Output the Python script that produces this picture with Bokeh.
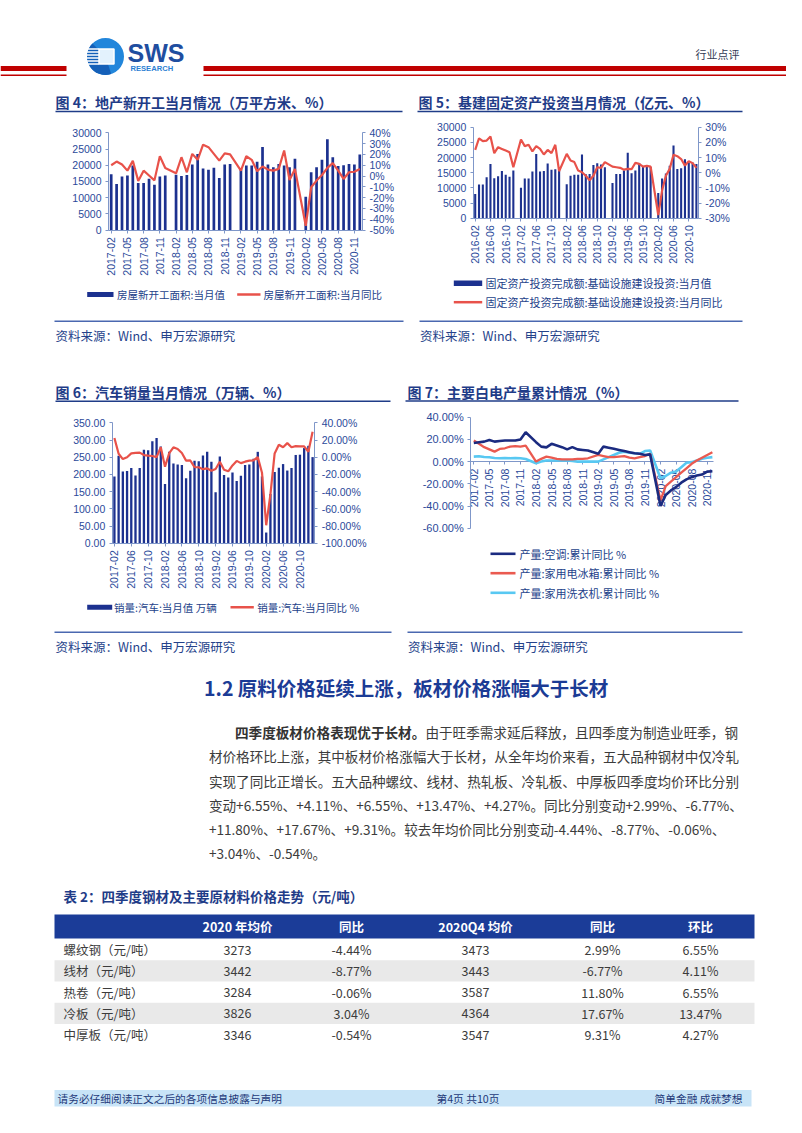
import numpy as np
from bokeh.plotting import figure
from bokeh.models import Range1d, LinearAxis, FixedTicker, PrintfTickFormatter, ColumnDataSource
from bokeh.core.properties import value
from bokeh.embed import file_html
from bokeh.resources import INLINE

# ======================= DATA =======================
def month_labels(y, m, n):
    out = []
    for _ in range(n):
        out.append("%d-%02d" % (y, m))
        m += 1
        if m > 12:
            m, y = 1, y + 1
    return out

# Fig 4: new housing starts (10k m2) and YoY %
c4_months = month_labels(2017, 2, 47)
c4_area = [17200, 14200, 16500, 16800, 19900, 14500, 14500, 15800, 14000, 16500, 16800,
           None, 17100, 16700, 17000, 20200, 23500, 19000, 18600, 19200, 16100, 20200, 20400,
           None, 18800, 19900, 19900, 21100, 25600, 20200, 19400, 20400, 19900, 19400, 22000,
           None, 10300, 17800, 19400, 21700, 28000, 22500, 19800, 20000, 20400, 20200, 23300]
c4_yoy = [10, 13.4, 10.6, 5, 14, -4.5, 5, 0.5, -4, 18.3, 7.5,
          None, 2.5, 17.4, 3.5, 20.5, 15, 29, 26.7, 20.5, 14.3, 21, 20,
          None, 5, 18.3, 15, 4.4, 8.8, 6, 5, 6.6, 23.6, -3.6, 6.6,
          None, -46, -10.4, -4.2, 1, 7.5, 11.9, 5, -2.7, 3.5, 4, 6.6]

# Fig 5: infrastructure FAI (100m yuan) and YoY %
c5_months = month_labels(2016, 2, 59)
c5_inv = [8000, 11100, 11100, 13500, 17900, 13200, 13800, 15600, 14300, 13700, 15700,
          None, 10000, 13100, 13100, 15400, 21200, 15400, 15600, 18000, 16000, 16100, 15700,
          None, 11200, 14000, 14300, 14300, 21000, 14500, 14600, 17500, 18100, 17700, 16800,
          None, 11600, 14600, 14600, 15700, 21600, 14800, 15700, 18100, 17200, 17200, 16900,
          None, 8300, 13100, 14700, 17300, 24000, 16200, 16500, 19400, 18400, 18400, 17900]
c5_yoy = [15, 22.7, 20.8, 21.2, 23.8, 12.9, 16.8, 15.7, 14.6, 13.5, 3.6,
          None, 21.9, 17.5, 18.4, 14, 17.5, 15.7, 12, 15, 12.9, 18.4, 1,
          None, 12.4, 8, 7, 1.4, 0.3, -2, -5, -2, 3.6, 3.2, 7,
          None, 4, 3.6, 3.2, 2, 2.5, 2.3, 6.5, 5.8, 4, 4.5, 4,
          None, -28, -11.8, -2, 2.5, 11.8, 10.9, 9, 4.7, 7.6, 6.3, 3.2]

# Fig 6: auto sales (10k units) and YoY %
c6_months = month_labels(2017, 2, 48)
c6_sales = [193.9, 254.4, 208.4, 209.6, 218.6, 197.1, 218.6, 271.3, 270.4, 296.5, 305.9,
            281.0, 172.4, 265.6, 231.9, 228.8, 227.4, 188.9, 210.3, 239.4, 238.0, 254.8, 266.1,
            236.7, 148.2, 252.0, 198.0, 191.3, 205.6, 180.9, 195.8, 227.1, 229.1, 245.6, 265.6,
            194.1, 31.0, 143.0, 207.0, 219.4, 230.0, 211.2, 218.6, 256.5, 257.3, 276.5, 283.1,
            250.3]
c6_yoy = [22.4, 4.0, -2.2, 0.0, 4.5, 5.0, 5.3, 2.5, 1.9, 1.4, 0.1,
          11.6, -11.1, 4.7, 11.5, 9.6, 4.8, -4.0, -3.8, -11.6, -11.7, -13.9, -13.0,
          -15.8, -13.8, -5.2, -14.6, -16.4, -9.6, -4.3, -6.9, -5.2, -4.0, -3.6, 0.1,
          -18.0, -79.1, -43.3, 4.4, 14.5, 11.6, 16.4, 11.6, 12.8, 12.5, 12.6, 6.4,
          29.5]

# Fig 7: white goods output, cumulative YoY %
c7_months = month_labels(2017, 2, 47)
c7_ac = [16.8, 17.4, 18.0, 19.5, 18.0, 18.6, 19.0, 19.0, 19.0, 20.0, 26.4,
         None, 17.5, 13.5, 12.8, 16.0, 14.5, 13.0, 11.0, 13.0, 11.0, 10.5, 10.0,
         None, 7.0, 13.5, 12.5, 11.5, 10.5, 9.5, 8.5, 7.5, 7.0, 6.0, 6.5,
         None, -40.0, -30.0, -26.0, -23.0, -19.0, -16.0, -14.0, -12.6, -11.7, -9.0, -8.7]
c7_fridge = [19.0, 16.0, 13.0, 11.0, 9.0, 11.4, 12.0, 13.5, 14.0, 13.5, 14.4,
             None, 0.0, 2.5, 4.5, 3.5, 2.5, 2.0, 2.0, 2.0, 2.5, 2.5, 3.0,
             None, 6.0, 5.0, 4.0, 4.0, 4.5, 5.0, 3.5, 3.0, 4.0, 5.0, 7.0,
             None, -35.0, -22.0, -18.0, -14.0, -10.0, -6.0, -2.0, 1.0, 3.5, 6.0, 8.5]
c7_washer = [4.5, 4.8, 4.2, 3.9, 3.3, 3.0, 3.3, 3.0, 3.3, 3.0, 2.4,
             None, -1.5, 0.0, 1.0, 1.0, 1.0, 1.0, 1.0, 0.5, 0.0, 0.0, 0.0,
             None, 0.0, 2.0, 4.0, 6.0, 8.0, 9.0, 8.0, 7.5, 7.0, 9.5, 10.0,
             None, -15.0, -13.0, -10.0, -9.0, -5.0, -1.0, -0.5, 1.0, 2.5, 3.5, 4.0]

# Table 2
t_header = ["2020 年均价", "同比", "2020Q4 均价", "同比", "环比"]
t_rows = ["螺纹钢（元/吨）", "线材（元/吨）", "热卷（元/吨）", "冷板（元/吨）", "中厚板（元/吨）"]
t_avg2020 = ["3273", "3442", "3284", "3826", "3346"]
t_yoy2020 = ["-4.44%", "-8.77%", "-0.06%", "3.04%", "-0.54%"]
t_avgq4 = ["3473", "3443", "3587", "4364", "3547"]
t_yoyq4 = ["2.99%", "-6.77%", "11.80%", "17.67%", "9.31%"]
t_qoq = ["6.55%", "4.11%", "6.55%", "13.47%", "4.27%"]

para_bold = "四季度板材价格表现优于长材。"
para_lines = ["由于旺季需求延后释放，且四季度为制造业旺季，钢",
              "材价格环比上涨，其中板材价格涨幅大于长材，从全年均价来看，五大品种钢材中仅冷轧",
              "实现了同比正增长。五大品种螺纹、线材、热轧板、冷轧板、中厚板四季度均价环比分别",
              "变动+6.55%、+4.11%、+6.55%、+13.47%、+4.27%。同比分别变动+2.99%、-6.77%、",
              "+11.80%、+17.67%、+9.31%。较去年均价同比分别变动-4.44%、-8.77%、-0.06%、",
              "+3.04%、-0.54%。"]

# ======================= STYLE =======================
CJK = "Noto Sans CJK SC"
NUM = "Liberation Sans"
TITLE_C = "#1f3c88"
TICK_C = "#2b4a9a"
AX_C = "#7f97c9"
BAR_C = "#1c318f"
RED_C = "#e8524a"
NAVY_L = "#1b2b80"
FRIDGE_C = "#ea5a50"
WASH_C = "#58c8f2"
SRC_C = "#24428a"
TXT_C = "#3c3c3c"

PX0, PX1 = 0, 786
PY0, PY1 = 0, 1117

p = figure(width=PX1 - PX0, height=PY1 - PY0, x_range=Range1d(PX0, PX1), y_range=Range1d(PY1, PY0),
           x_axis_location=None, y_axis_location=None, output_backend="svg",
           toolbar_location=None, min_border=0, outline_line_color=None,
           background_fill_color="white", border_fill_color="white")
p.grid.visible = False


def add_xr(name, u0, u1, px0, px1):
    s = (u1 - u0) / (px1 - px0)
    p.extra_x_ranges[name] = Range1d(u0 - (px0 - PX0) * s, u1 + (PX1 - px1) * s)


def add_yr(name, v0, v1, py0, py1):
    s = (v1 - v0) / (py0 - py1)
    p.extra_y_ranges[name] = Range1d(v0 - (PY1 - py0) * s, v1 + (py1 - PY0) * s)


def axis(side, xrn, yrn, loc, bounds, ticks, fmt=None, overrides=None, orient=None,
         size="10.5px", level=None):
    ax = LinearAxis(x_range_name=xrn, y_range_name=yrn, fixed_location=loc, bounds=bounds,
                    ticker=FixedTicker(ticks=ticks, minor_ticks=[]),
                    axis_line_color=AX_C, axis_line_width=1,
                    major_tick_line_color=AX_C, major_tick_in=0, major_tick_out=3,
                    minor_tick_line_color=None, major_label_text_font=NUM,
                    major_label_text_font_size=size, major_label_text_color=TICK_C,
                    major_label_standoff=4)
    if fmt:
        ax.formatter = PrintfTickFormatter(format=fmt)
    if overrides:
        ax.major_label_overrides = overrides
    if orient is not None:
        ax.major_label_orientation = orient
    if level:
        ax.level = level
    p.add_layout(ax, side)
    return ax


def txt(x, y, s, size, color, font=CJK, bold=False, align="left", baseline="middle"):
    p.text(x=[x], y=[y], text=[s], text_font=value(font), text_font_size=value("%spx" % size),
           text_color=color, text_font_style="bold" if bold else "normal",
           text_align=align, text_baseline=baseline)


def hline(x0, x1, y, color, w):
    p.segment(x0=[x0], y0=[y], x1=[x1], y1=[y], line_color=color, line_width=w)


def present(vals):
    i = [k for k, v in enumerate(vals) if v is not None]
    return i, [vals[k] for k in i]


# ======================= HEADER =======================
p.quad(left=[PX0, 203], right=[66, PX1], top=[65.5, 65.5], bottom=[70.5, 70.5],
       fill_color="#c00000", line_color=None)
p.quad(left=[PX0, 203], right=[66, PX1], top=[74, 74], bottom=[75.6, 75.6],
       fill_color="#c00000", line_color=None)
# logo
p.circle(x=[105], y=[56], radius=18.5, fill_color="#2286db", line_color=None)
p.wedge(x=[105], y=[56], radius=18.5, start_angle=np.pi * 0.75, end_angle=np.pi * 1.6,
        direction="anticlock", fill_color="#1560b8", line_color=None)
p.quad(left=[98.5], right=[113.5], top=[48.5], bottom=[63.5], fill_color="#e3f2fd",
       line_color="white", line_width=1.5)
p.segment(x0=[86.5] * 6, y0=[48.5, 51.5, 54.5, 57.5, 60.5, 63.5], x1=[98.5] * 6,
          y1=[48.5, 51.5, 54.5, 57.5, 60.5, 63.5], line_color="white", line_width=1.4)
txt(127, 52.5, "SWS", 25, "#1f4ea0", font=NUM, bold=True)
txt(130, 67.8, "RESEARCH", 7.6, "#2b7fd3", font=NUM, bold=True)
txt(739, 53, "行业点评", 11, "#333a55", align="right")

# ======================= CHART TITLES & FRAMES =======================
txt(55, 101.7, "图 4：地产新开工当月情况（万平方米、%）", 14, TITLE_C, bold=True)
txt(418, 101.7, "图 5：基建固定资产投资当月情况（亿元、%）", 14, TITLE_C, bold=True)
txt(55, 391.7, "图 6：汽车销量当月情况（万辆、%）", 14, TITLE_C, bold=True)
txt(407, 391.7, "图 7：主要白电产量累计情况（%）", 14, TITLE_C, bold=True)
hline(55, 402, 111, TITLE_C, 1.6)
hline(417, 742, 111, TITLE_C, 1.6)
hline(55, 390, 400.7, TITLE_C, 1.6)
hline(405, 738, 400.5, TITLE_C, 1.6)
hline(54, 403, 320.7, "#4a68b0", 1.6)
hline(419, 742, 320.7, "#4a68b0", 1.6)
hline(54, 391, 631.7, "#4a68b0", 1.6)
hline(407, 742, 631.7, "#4a68b0", 1.6)
txt(55, 335, "资料来源：Wind、申万宏源研究", 12.5, SRC_C)
txt(419.5, 335, "资料来源：Wind、申万宏源研究", 12.5, SRC_C)
txt(55, 645.5, "资料来源：Wind、申万宏源研究", 12.5, SRC_C)
txt(407.5, 645.5, "资料来源：Wind、申万宏源研究", 12.5, SRC_C)

# ======================= FIG 4 =======================
n4 = len(c4_months)
add_xr("c4x", -0.5, n4 - 0.5, 108, 362)
add_yr("c4l", 0, 30000, 229.6, 132.3)
add_yr("c4r", -50, 40, 229.6, 132.3)
i, v = present(c4_area)
p.vbar(x=i, top=v, bottom=0, width=0.5, x_range_name="c4x", y_range_name="c4l",
       fill_color=BAR_C, line_color=None)
i, v = present(c4_yoy)
p.line(x=i, y=v, x_range_name="c4x", y_range_name="c4r", line_color=RED_C, line_width=2.2)
t4 = list(range(0, n4, 3))
axis("left", "c4x", "c4l", -0.5, (0, 30000), list(range(0, 30001, 5000)))
axis("right", "c4x", "c4r", n4 - 0.5, (-50, 40), list(range(-50, 41, 10)), fmt="%d%%")
axis("below", "c4x", "c4l", 0, (-0.5, n4 - 0.5), t4,
     overrides={k: c4_months[k] for k in t4}, orient=np.pi / 2)
p.quad(left=[86.7], right=[113], top=[291.5], bottom=[296.5], fill_color=BAR_C, line_color=None)
txt(116.5, 294, "房屋新开工面积:当月值", 10.5, SRC_C)
hline(236.7, 260, 294, RED_C, 2.5)
txt(263, 294, "房屋新开工面积:当月同比", 10.5, SRC_C)

# ======================= FIG 5 =======================
n5 = len(c5_months)
add_xr("c5x", -0.5, n5 - 0.5, 472.8, 697.8)
add_yr("c5l", 0, 30000, 217.7, 126.7)
add_yr("c5r", -30, 30, 217.7, 126.7)
i, v = present(c5_inv)
p.vbar(x=i, top=v, bottom=0, width=0.55, x_range_name="c5x", y_range_name="c5l",
       fill_color=BAR_C, line_color=None)
i, v = present(c5_yoy)
p.line(x=i, y=v, x_range_name="c5x", y_range_name="c5r", line_color=RED_C, line_width=2.2)
t5 = list(range(0, n5, 4))
axis("left", "c5x", "c5l", -0.5, (0, 30000), list(range(0, 30001, 5000)))
axis("right", "c5x", "c5r", n5 - 0.5, (-30, 30), list(range(-30, 31, 10)), fmt="%d%%")
axis("below", "c5x", "c5l", 0, (-0.5, n5 - 0.5), t5,
     overrides={k: c5_months[k] for k in t5}, orient=np.pi / 2)
p.quad(left=[453.3], right=[481.7], top=[280], bottom=[285.5], fill_color=BAR_C, line_color=None)
txt(485, 282.7, "固定资产投资完成额:基础设施建设投资:当月值", 11, SRC_C)
hline(453.3, 481.7, 301.7, RED_C, 2.5)
txt(485, 301.7, "固定资产投资完成额:基础设施建设投资:当月同比", 11, SRC_C)

# ======================= FIG 6 =======================
n6 = len(c6_months)
add_xr("c6x", -0.5, n6 - 0.5, 111.8, 314.2)
add_yr("c6l", 0, 350, 542.7, 422.3)
add_yr("c6r", -100, 40, 542.7, 422.3)
p.vbar(x=list(range(n6)), top=c6_sales, bottom=0, width=0.55, x_range_name="c6x",
       y_range_name="c6l", fill_color=BAR_C, line_color=None)
p.line(x=list(range(n6)), y=c6_yoy, x_range_name="c6x", y_range_name="c6r",
       line_color=RED_C, line_width=2.2)
t6 = list(range(0, n6, 4))
axis("left", "c6x", "c6l", -0.5, (0, 350), list(range(0, 351, 50)), fmt="%.2f")
axis("right", "c6x", "c6r", n6 - 0.5, (-100, 40), list(range(-100, 41, 20)), fmt="%.2f%%")
axis("below", "c6x", "c6l", 0, (-0.5, n6 - 0.5), t6,
     overrides={k: c6_months[k] for k in t6}, orient=np.pi / 2)
p.quad(left=[86.7], right=[111.7], top=[604.2], bottom=[609.2], fill_color=BAR_C, line_color=None)
txt(113.5, 606.7, "销量:汽车:当月值 万辆", 10.5, SRC_C)
hline(230, 253.3, 606.7, RED_C, 2.5)
txt(256.7, 606.7, "销量:汽车:当月同比 %", 10.5, SRC_C)

# ======================= FIG 7 =======================
n7 = len(c7_months)
add_xr("c7x", 0, 45, 473.3, 706.7)
add_yr("c7y", -60, 40, 527.7, 416.7)
t7 = list(range(0, n7, 3))
axis("below", "c7x", "c7y", 0, (-0.6, n7 - 0.8), t7,
     overrides={k: c7_months[k] for k in t7}, orient=np.pi / 2, level="underlay")
for ser, col, lw in ((c7_washer, WASH_C, 2.6), (c7_fridge, FRIDGE_C, 2.3), (c7_ac, NAVY_L, 2.6)):
    i, v = present(ser)
    p.line(x=i, y=v, x_range_name="c7x", y_range_name="c7y", line_color=col, line_width=lw)
axis("left", "c7x", "c7y", -0.6, (-60, 40), list(range(-60, 41, 20)), fmt="%.2f%%", size="11px")
for yy, col, lab in ((553.3, NAVY_L, "产量:空调:累计同比 %"),
                     (572.7, FRIDGE_C, "产量:家用电冰箱:累计同比 %"),
                     (592.3, WASH_C, "产量:家用洗衣机:累计同比 %")):
    hline(490, 515, yy, col, 2.6)
    txt(519, yy, lab, 11, SRC_C)

# ======================= SECTION TEXT =======================
txt(203.6, 687, "1.2 原料价格延续上涨，板材价格涨幅大于长材", 19.5, "#1b3b95", bold=True)
LH = 24.25
Y0 = 731.5
txt(234.5, Y0, para_bold, 13.6, "#333333", bold=True)
txt(234.5 + 14 * 13.6, Y0, para_lines[0], 13.6, TXT_C)
for k, line in enumerate(para_lines[1:], start=1):
    txt(208.4, Y0 + k * LH, line, 13.6, TXT_C)

# ======================= TABLE =======================
txt(63, 895.5, "表 2：四季度钢材及主要原材料价格走势（元/吨）", 13.5, TITLE_C, bold=True)
col_x = [237, 351, 475, 602, 700]
p.quad(left=[54], right=[754], top=[914], bottom=[938], fill_color="#1b3c98", line_color=None)
for cx, h in zip(col_x, t_header):
    txt(cx, 926, h, 12.5, "white", bold=True, align="center")
row_h = 21.3
row_y0 = 949
for r in range(len(t_rows)):
    yc = row_y0 + r * row_h
    if r % 2 == 1:
        p.quad(left=[54], right=[754], top=[yc - row_h / 2], bottom=[yc + row_h / 2],
               fill_color="#e9e9e9", line_color=None)
    txt(63, yc, t_rows[r], 12.5, TXT_C)
    for cx, col in zip(col_x, (t_avg2020, t_yoy2020, t_avgq4, t_yoyq4, t_qoq)):
        txt(cx, yc, col[r], 12.5, TXT_C, align="center")

# ======================= FOOTER =======================
p.quad(left=[54], right=[751], top=[1089.5], bottom=[1106], fill_color="#c8e4f7", line_color=None)
txt(57, 1098, "请务必仔细阅读正文之后的各项信息披露与声明", 10.7, "#1f3a7a")
txt(436, 1098, "第4页 共10页", 10.7, "#1f3a7a")
txt(742, 1098, "简单金融 成就梦想", 10.7, "#1f3a7a", align="right")

open("out.html", "w").write(file_html(p, INLINE))
